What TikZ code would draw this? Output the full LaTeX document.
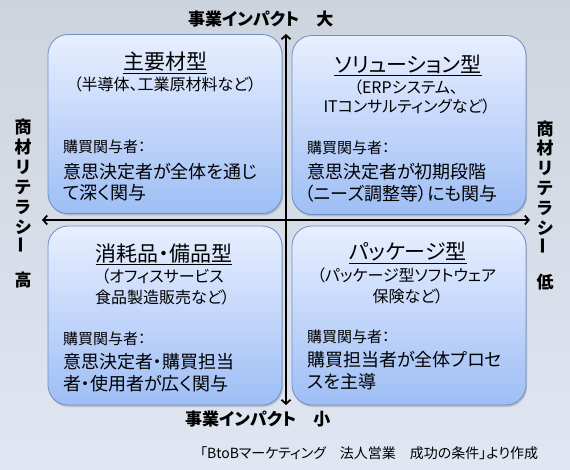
\documentclass[tikz,border=0pt]{standalone}
\usepackage{fontspec}
\setmainfont{Noto Sans CJK JP}[RawFeature={+palt}]
\usetikzlibrary{arrows.meta,shadows}
\definecolor{bgtop}{RGB}{206,212,221}
\definecolor{bgbot}{RGB}{224,230,242}
\definecolor{boxtop}{RGB}{232,239,255}
\definecolor{boxbot}{RGB}{158,190,245}
\definecolor{boxline}{RGB}{108,143,200}
\tikzset{
  quad/.style={draw=boxline, line width=0.8pt, rounded corners=20pt,
    top color=boxtop, bottom color=boxbot, minimum width=234pt, minimum height=179pt,
    drop shadow={shadow xshift=1pt, shadow yshift=-2pt, opacity=0.25, fill=black!70}},
  ttl/.style={inner sep=0pt, anchor=base, font=\fontsize{21}{25}\selectfont},
  subt/.style={inner sep=0pt, anchor=base, font=\fontsize{16}{19}\selectfont},
  lbl/.style={inner sep=0pt, anchor=base west, font=\fontsize{15}{18}\selectfont},
  bodyt/.style={inner sep=0pt, anchor=base west, font=\fontsize{18}{21}\selectfont},
  axlbl/.style={inner sep=0pt, anchor=base west, font=\bfseries\fontsize{17}{20}\selectfont},
  vlbl/.style={inner sep=0pt, anchor=base, font=\bfseries\fontsize{17}{20}\selectfont},
  axisline/.style={line width=1.8pt, {Straight Barb[length=4pt,width=9pt]}-{Straight Barb[length=4pt,width=9pt]}},
}
\begin{document}
\begin{tikzpicture}[x=1pt,y=-1pt]
\fill[top color=bgtop, bottom color=bgbot] (0,0) rectangle (570,470);
\useasboundingbox (0,0) rectangle (570,470);

% quadrants
\node[quad] (q1) at (165,124) {};
\node[quad] (q2) at (409,125) {};
\node[quad] (q3) at (165,315.5) {};
\node[quad] (q4) at (409,315.5) {};

% axes
\coordinate (vt) at (286,34);
\coordinate (vb) at (286,405);
\coordinate (hl) at (42,220);
\coordinate (hr) at (530,220);
\draw[axisline] (vb) -- (vt);
\draw[axisline] (hl) -- (hr);

% axis labels
\node[axlbl] (topl) at (188,25.5) {事業インパクト　大};
\node[axlbl] (botl) at (185,425) {事業インパクト　小};

% left vertical label
\node[vlbl] (l1) at (23,133.5) {商};
\node[vlbl] (l2) at (23,153.5) {材};
\node[vlbl] (l3) at (23,174) {リ};
\node[vlbl] (l4) at (23,194) {テ};
\node[vlbl] (l5) at (23,213.5) {ラ};
\node[vlbl] (l6) at (23,233.5) {シ};
\node[inner sep=0pt, rotate=90, font=\bfseries\fontsize{17}{20}\selectfont] (l7) at (23,245) {ー};
\node[vlbl] (l8) at (23,287) {高};

% right vertical label
\node[vlbl] (r1) at (545,135.5) {商};
\node[vlbl] (r2) at (545,155) {材};
\node[vlbl] (r3) at (545,175) {リ};
\node[vlbl] (r4) at (545,195) {テ};
\node[vlbl] (r5) at (545,214.5) {ラ};
\node[vlbl] (r6) at (545,234.5) {シ};
\node[inner sep=0pt, rotate=90, font=\bfseries\fontsize{17}{20}\selectfont] (r7) at (545,246) {ー};
\node[vlbl] (r8) at (545,288) {低};

% Q1
\node[ttl] (t1) at (165,70) {\underline{主要材型}};
\node[subt] (s1) at (165,91) {（半導体、工業原材料など）};
\node[lbl] (k1) at (63,152.5) {購買関与者：};
\node[bodyt] (b1a) at (63,178.5) {意思決定者が全体を通じ};
\node[bodyt] (b1b) at (63,199.5) {て深く関与};

% Q2
\node[ttl] (t2) at (408,73) {\underline{ソリューション型}};
\node[subt] (s2a) at (406,94) {（ERPシステム、};
\node[subt] (s2b) at (407,113) {ITコンサルティングなど）};
\node[lbl] (k2) at (307,153.5) {購買関与者：};
\node[bodyt] (b2a) at (307,178.5) {意思決定者が初期段階};
\node[bodyt] (b2b) at (305,200.5) {（ニーズ調整等）にも関与};

% Q3
\node[ttl] (t3) at (164,261.5) {\underline{消耗品・備品型}};
\node[subt] (s3a) at (162.5,283) {（オフィスサービス};
\node[subt] (s3b) at (162.5,303.5) {食品製造販売など）};
\node[lbl] (k3) at (63,344) {購買関与者：};
\node[bodyt] (b3a) at (63,368.5) {意思決定者・購買担当};
\node[bodyt] (b3b) at (63,390) {者・使用者が広く関与};

% Q4
\node[ttl] (t4) at (408,260) {\underline{パッケージ型}};
\node[subt] (s4a) at (406.5,281) {（パッケージ型ソフトウェア};
\node[subt] (s4b) at (408,302) {保険など）};
\node[lbl] (k4) at (307,342.5) {購買関与者：};
\node[bodyt] (b4a) at (307,366.5) {購買担当者が全体プロセ};
\node[bodyt] (b4b) at (307,388.5) {スを主導};

% footer
\node[inner sep=0pt, anchor=base west, font=\fontsize{14}{17}\selectfont] (src) at (200,458) {「BtoBマーケティング　法人営業　成功の条件」より作成};
\end{tikzpicture}
\end{document}
